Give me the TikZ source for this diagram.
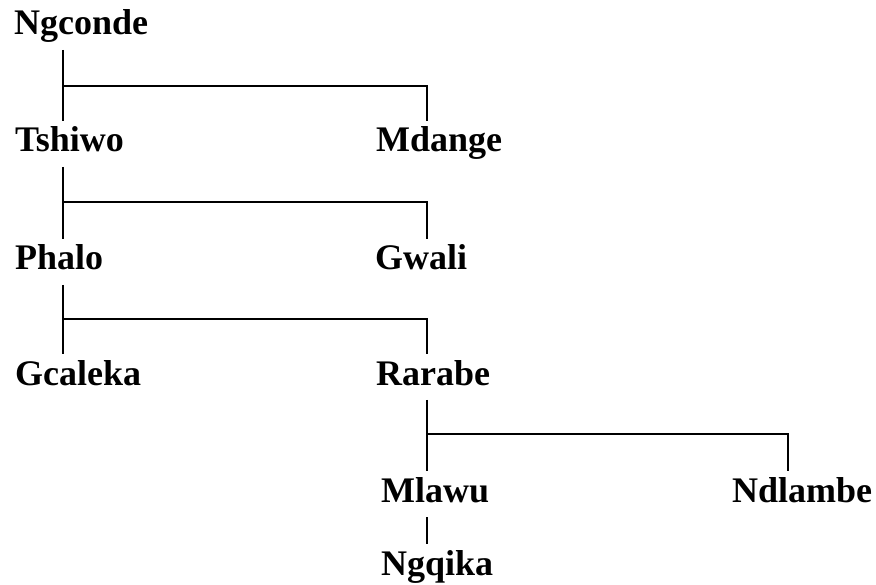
\documentclass[tikz,border=0pt]{standalone}
\usepackage{fontspec}
\setmainfont{Liberation Serif}
\tikzset{
    chief/.style={anchor=base west,inner sep=0pt,outer ysep=7pt,text height=24pt,text depth=8pt,font=\fontsize{36}{40}\selectfont\bfseries},
    kin/.style={line width=2.6pt}
}
\begin{document}
\begin{tikzpicture}[x=1pt,y=-1pt]
        \useasboundingbox[fill=white] (0,0) rectangle (876,585);
        % names, one row per generation
        \node[chief] (ngconde) at (14,35) {Ngconde};
        \node[chief] (tshiwo) at (15,152) {Tshiwo};
        \node[chief] (mdange) at (376,152) {Mdange};
        \node[chief] (phalo) at (15,270) {Phalo};
        \node[chief] (gwali) at (375,270) {Gwali};
        \node[chief] (gcaleka) at (15,385) {Gcaleka};
        \node[chief] (rarabe) at (376,385) {Rarabe};
        \node[chief] (mlawu) at (381,502) {Mlawu};
        \node[chief] (ndlambe) at (732,502) {Ndlambe};
        \node[chief] (ngqika) at (381,575) {Ngqika};
        % junctions
        \coordinate (j1) at (63,86);   \coordinate (k1) at (427,86);
        \coordinate (j2) at (63,202);  \coordinate (k2) at (427,202);
        \coordinate (j3) at (63,319);  \coordinate (k3) at (427,319);
        \coordinate (j4) at (427,434); \coordinate (k4) at (788,434);
        \begin{scope}[kin]
            \draw (ngconde.south -| j1) -- (tshiwo.north -| j1);
            \draw (j1) -- (k1) -- (mdange.north -| k1);
            \draw (tshiwo.south -| j2) -- (phalo.north -| j2);
            \draw (j2) -- (k2) -- (gwali.north -| k2);
            \draw (phalo.south -| j3) -- (gcaleka.north -| j3);
            \draw (j3) -- (k3) -- (rarabe.north -| k3);
            \draw (rarabe.south -| j4) -- (mlawu.north -| j4);
            \draw (j4) -- (k4) -- (ndlambe.north -| k4);
            \draw (mlawu.south -| j4) -- (ngqika.north -| j4);
        \end{scope}
\end{tikzpicture}
\end{document}
